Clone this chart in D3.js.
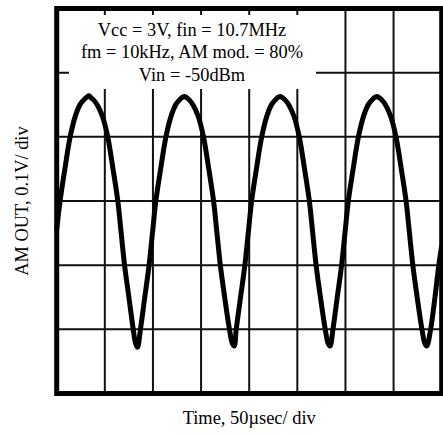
<!DOCTYPE html>
<html>
<head>
<meta charset="utf-8">
<script src="https://cdn.jsdelivr.net/npm/d3@7"></script>
<style>
html,body{margin:0;padding:0;background:#fff;}
svg{display:block;}
</style>
</head>
<body>
<script>
// Time in microseconds (50 µs/div), AM OUT in volts (0.1 V/div)
const timeUs = [
  0, 3.5, 8.5, 14, 19.5, 24.5, 29, 31.5, 33.5, 35.5, 38, 42.5, 47.5, 53, 58.5, 63.5, 67, 70.5, 75, 79.5, 82, 84,
  87, 91.5, 96, 99.5, 103, 108, 113.5, 119, 124, 128.5, 131, 133, 135, 137.5, 142, 147, 152.5, 158, 163, 166.5, 170, 174.5, 179.5, 182.5, 184.5,
  186.5, 191, 195.5, 199, 202.5, 207.5, 213, 218.5, 223.5, 228, 230.5, 232.5, 234.5, 237, 241.5, 246.5, 252, 257.5, 262.5, 266, 269.5, 274, 279, 282, 284,
  287, 291.5, 296, 299.5, 303, 308, 313.5, 319, 324, 328.5, 331, 333, 335, 337.5, 342, 347, 352.5, 358, 363, 366.5, 370, 374.5, 379.5, 382.5, 384.5,
  388.5, 393, 397, 400
];
const amOut = [
  -0.045, 0, 0.05, 0.1, 0.133, 0.151, 0.159, 0.162, 0.164, 0.161, 0.158, 0.149, 0.132, 0.1, 0.05, 0, -0.05, -0.1, -0.15, -0.2, -0.222, -0.228,
  -0.2, -0.15, -0.1, -0.05, 0, 0.05, 0.1, 0.133, 0.151, 0.159, 0.162, 0.163, 0.161, 0.158, 0.149, 0.132, 0.1, 0.05, 0, -0.05, -0.1, -0.15, -0.2, -0.222, -0.226,
  -0.2, -0.15, -0.1, -0.05, 0, 0.05, 0.1, 0.133, 0.151, 0.159, 0.162, 0.163, 0.161, 0.158, 0.149, 0.132, 0.1, 0.05, 0, -0.05, -0.1, -0.15, -0.2, -0.222, -0.226,
  -0.2, -0.15, -0.1, -0.05, 0, 0.05, 0.1, 0.133, 0.151, 0.159, 0.162, 0.163, 0.161, 0.158, 0.149, 0.132, 0.1, 0.05, 0, -0.05, -0.1, -0.15, -0.2, -0.222, -0.226,
  -0.2, -0.15, -0.1, -0.07
];
const timeTicks = [0, 50, 100, 150, 200, 250, 300, 350, 400];
const voltTicks = [-0.3, -0.2, -0.1, 0, 0.1, 0.2, 0.3];
const noteLines = ["Vcc = 3V, fin = 10.7MHz", "fm = 10kHz, AM mod. = 80%", "Vin = -50dBm"];
const xLabel = "Time, 50\u00B5sec/ div";
const yLabel = "AM OUT, 0.1V/ div";

const W = 443, H = 436;
const FONT = "'Liberation Serif','Times New Roman',Times,serif";
const svg = d3.select("body").append("svg").attr("width", W).attr("height", H);

const x = d3.scaleLinear().domain([0, 400]).range([56.7, 441.7]);
const y = d3.scaleLinear().domain([-0.3, 0.3]).range([393.5, 8.5]);

// grid
svg.append("g").selectAll("line").data(timeTicks).join("line")
  .attr("x1", d => x(d)).attr("x2", d => x(d))
  .attr("y1", y(0.3)).attr("y2", y(-0.3))
  .attr("stroke", "#111").attr("stroke-width", 2);
svg.append("g").selectAll("line").data(voltTicks).join("line")
  .attr("y1", d => y(d)).attr("y2", d => y(d))
  .attr("x1", x(0)).attr("x2", x(400))
  .attr("stroke", "#111").attr("stroke-width", 2);

// annotation box
svg.append("rect").attr("x", 69).attr("y", 15).attr("width", 247).attr("height", 74).attr("fill", "#fff");
const note = svg.append("text").attr("font-family", FONT).attr("font-size", 18.4)
  .attr("text-anchor", "middle").attr("fill", "#000");
noteLines.forEach((s, i) => {
  note.append("tspan").attr("x", 192).attr("y", 35.7 + i * 22.65).text(s);
});

// trace
const pts = timeUs.map((t, i) => [t, amOut[i]]);
svg.append("path").datum(pts)
  .attr("d", d3.line().x(d => x(d[0])).y(d => y(d[1])).curve(d3.curveCatmullRom.alpha(0.5)))
  .attr("fill", "none").attr("stroke", "#000").attr("stroke-width", 5)
  .attr("stroke-linejoin", "round").attr("stroke-linecap", "butt");

// frame
svg.append("rect").attr("x", x(0)).attr("y", y(0.3))
  .attr("width", x(400) - x(0)).attr("height", y(-0.3) - y(0.3))
  .attr("fill", "none").attr("stroke", "#000").attr("stroke-width", 5);

// axis labels
svg.append("text").attr("x", (x(0) + x(400)) / 2).attr("y", 424)
  .attr("text-anchor", "middle").attr("font-family", FONT).attr("font-size", 18.4)
  .attr("fill", "#000").text(xLabel);
svg.append("text").attr("transform", `translate(28,${(y(0.3) + y(-0.3)) / 2}) rotate(-90)`)
  .attr("text-anchor", "middle").attr("font-family", FONT).attr("font-size", 18.4)
  .attr("fill", "#000").text(yLabel);
</script>
</body>
</html>
